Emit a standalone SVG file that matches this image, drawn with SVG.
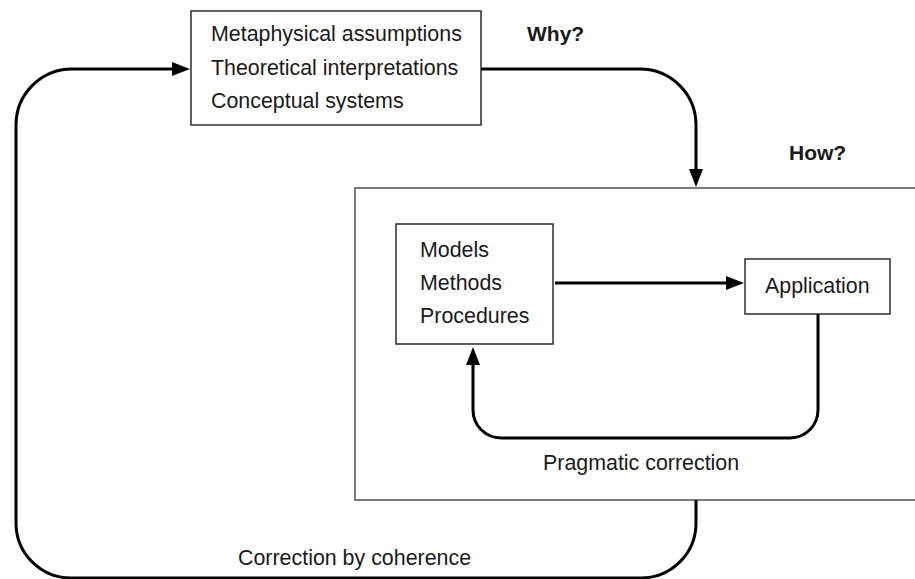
<svg xmlns="http://www.w3.org/2000/svg" width="915" height="579" viewBox="0 0 915 579">
<defs>
<style>
.box{fill:#fff;stroke:#3a3a3a;stroke-width:1.6}
.big{fill:none;stroke:#7a7a7a;stroke-width:2}
.t{font-family:"Liberation Sans",Arial,sans-serif;font-size:21.4px;fill:#1a1a1a}
.b{font-weight:bold;font-size:21px}
.c{fill:none;stroke:#000;stroke-width:3}
</style>
<marker id="ah" viewBox="0 0 18 14" refX="10" refY="7" markerWidth="18" markerHeight="14" markerUnits="userSpaceOnUse" orient="auto">
<path d="M0,0 L18,7 L0,14 z" fill="#000"/>
</marker>
</defs>
<rect width="915" height="579" fill="#fff"/>
<g id="how-box">
<rect class="big" x="355" y="188" width="620" height="312"/>
</g>
<g id="top">
<rect class="box" x="191" y="11" width="290" height="114"/>
<text class="t" x="211" y="41">Metaphysical assumptions</text>
<text class="t" x="211" y="75">Theoretical interpretations</text>
<text class="t" x="211" y="108">Conceptual systems</text>
</g>
<g id="models">
<rect class="box" x="396" y="224" width="157" height="120"/>
<text class="t" x="420" y="257">Models</text>
<text class="t" x="420" y="290">Methods</text>
<text class="t" x="420" y="323">Procedures</text>
</g>
<g id="application">
<rect class="box" x="745" y="259" width="145" height="55"/>
<text class="t" x="765" y="293">Application</text>
</g>
<g id="labels">
<text class="t b" x="527" y="41">Why?</text>
<text class="t b" x="789" y="160">How?</text>
<text class="t" x="543" y="470">Pragmatic correction</text>
<text class="t" x="238" y="565">Correction by coherence</text>
</g>
<g id="connectors">
<path class="c" d="M481,69 H640 A56,56 0 0 1 696,125 V179" marker-end="url(#ah)"/>
<path class="c" d="M555,283 H736" marker-end="url(#ah)"/>
<path class="c" d="M818,314 V410 A28,28 0 0 1 790,438 H501 A28,28 0 0 1 473,410 V355" marker-end="url(#ah)"/>
<path class="c" d="M696,500 V523 A55,55 0 0 1 641,578 H71 A55,55 0 0 1 16,523 V125 A56,56 0 0 1 72,69 H182" marker-end="url(#ah)"/>
</g>
</svg>
